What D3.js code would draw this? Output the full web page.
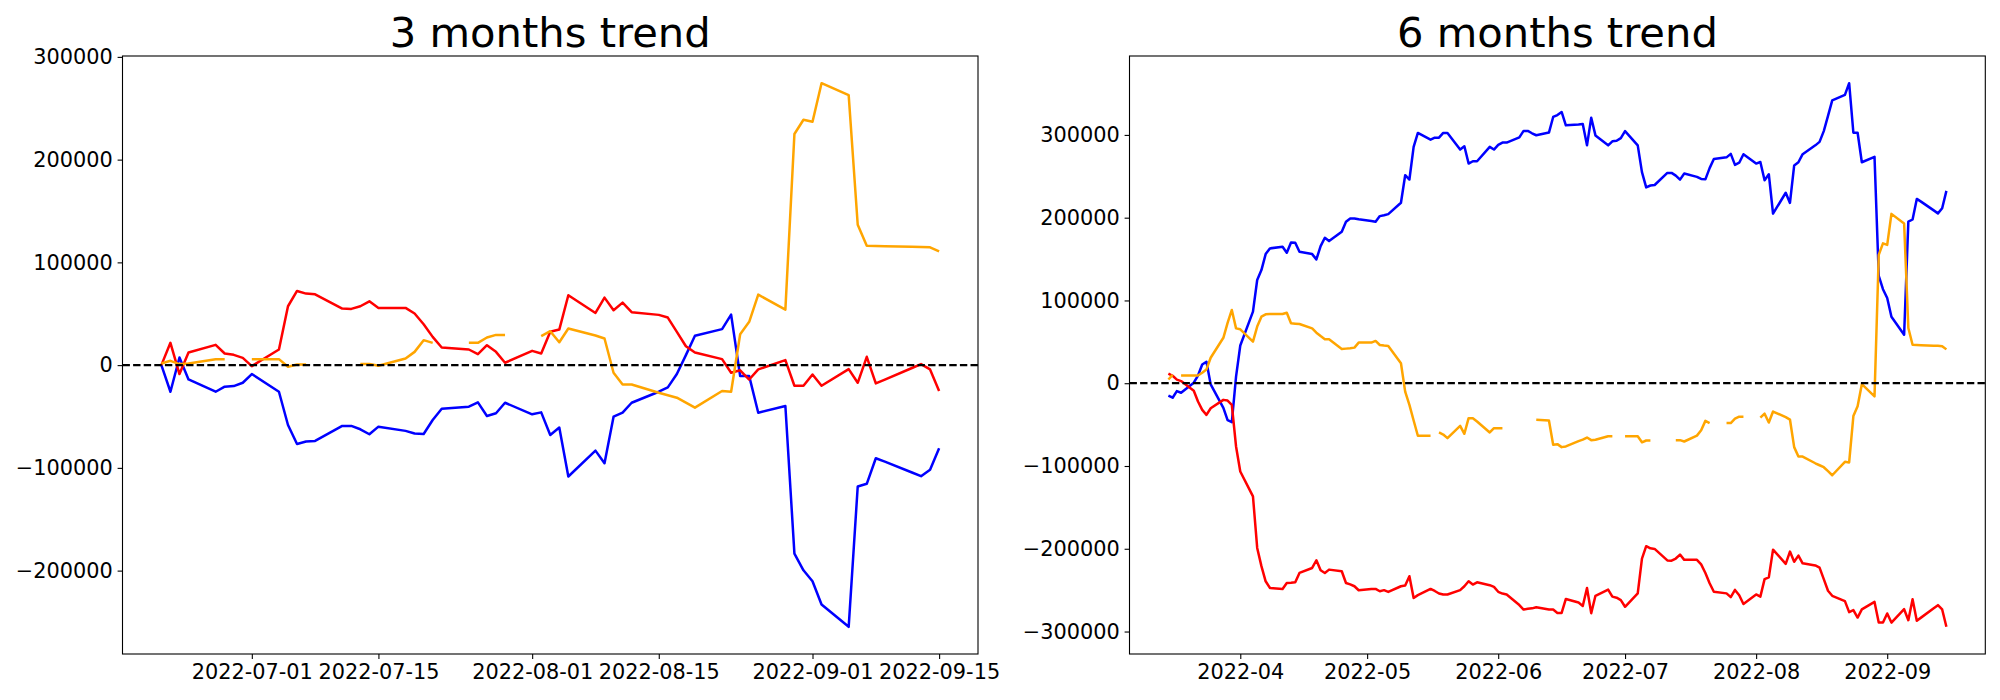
<!DOCTYPE html>
<html><head><meta charset="utf-8">
<script src="https://cdn.jsdelivr.net/npm/d3@7"></script>
<style>body{margin:0;background:#fff}</style>
</head><body><svg id="c" width="2000" height="700" style="background:#fff"></svg>
<script>
// ---------- 3 months trend ----------
const dates3 = ["2022-06-21","2022-06-22","2022-06-23","2022-06-24","2022-06-27","2022-06-28","2022-06-29","2022-06-30",
"2022-07-01","2022-07-04","2022-07-05","2022-07-06","2022-07-07","2022-07-08","2022-07-11","2022-07-12","2022-07-13","2022-07-14","2022-07-15","2022-07-18","2022-07-19","2022-07-20","2022-07-21","2022-07-22","2022-07-25","2022-07-26","2022-07-27","2022-07-28","2022-07-29",
"2022-08-01","2022-08-02","2022-08-03","2022-08-04","2022-08-05","2022-08-08","2022-08-09","2022-08-10","2022-08-11","2022-08-12","2022-08-15","2022-08-16","2022-08-17","2022-08-18","2022-08-19","2022-08-22","2022-08-23","2022-08-24","2022-08-25","2022-08-26","2022-08-29","2022-08-30","2022-08-31",
"2022-09-01","2022-09-02","2022-09-05","2022-09-06","2022-09-07","2022-09-08","2022-09-09","2022-09-12","2022-09-13","2022-09-14","2022-09-15"];
const blue3 = [0,-25900,7400,-13900,-25900,-21000,-20400,-17150,
-8700,-25900,-58250,-76700,-74400,-73800,-59200,-59200,-62450,-67300,-59900,-64000,-66500,-67000,-53400,-42400,-40400,-36200,-49500,-46900,-36600,
-47900,-46000,-68000,-60800,-108400,-83200,-95500,-50200,-46300,-36600,-25900,-21700,-8700,9700,28500,35000,49200,-10700,-10700,-46300,-39800,-183500,-199700,
-210300,-233000,-254700,-118100,-115500,-90600,-93900,-104500,-108100,-101900,-80900];
const red3 = [0,21700,-8700,12300,19700,11300,10000,7100,
-1000,15200,57300,72200,69600,68900,55000,54700,57300,62100,55700,55700,50200,39800,27500,17150,15200,10700,19400,12900,2300,
13900,11300,32400,34600,68000,50800,65700,53400,60800,51500,48900,46300,32400,18400,12300,5800,-7400,-5000,-14000,-4200,4900,-20100,-20100,
-9100,-20100,-3900,-17200,8100,-17800,-14100,-2800,1000,-4200,-25200];
const orange3 = [1600,4200,1000,1600,5800,5800,null,null,
5800,5800,-1600,600,600,null,null,null,1000,1000,-600,6500,12900,24300,21700,null,21700,21700,26900,29400,29400,
null,28200,33000,22300,35600,28800,25900,-7400,-18800,-18800,-26900,-29300,-31700,-36500,-41400,-25200,-25900,30100,42100,68600,54000,224900,238800,
236900,274400,262800,136600,116200,116000,115800,115200,115000,114600,110700];
const xTicks3 = ["2022-07-01","2022-07-15","2022-08-01","2022-08-15","2022-09-01","2022-09-15"];
const yTicks3 = [-200000,-100000,0,100000,200000,300000];

// ---------- 6 months trend ----------
const dates6early = ["2022-03-15","2022-03-16","2022-03-17","2022-03-18","2022-03-21","2022-03-22","2022-03-23","2022-03-24","2022-03-25","2022-03-28","2022-03-29","2022-03-30","2022-03-31",
"2022-04-01","2022-04-04","2022-04-05","2022-04-06","2022-04-07","2022-04-08","2022-04-11","2022-04-12","2022-04-13","2022-04-14","2022-04-15","2022-04-18","2022-04-19","2022-04-20","2022-04-21","2022-04-22","2022-04-25","2022-04-26","2022-04-27","2022-04-28","2022-04-29",
"2022-05-02","2022-05-03","2022-05-04","2022-05-05","2022-05-06","2022-05-09","2022-05-10","2022-05-11","2022-05-12","2022-05-13","2022-05-16","2022-05-17","2022-05-18","2022-05-19","2022-05-20","2022-05-23","2022-05-24","2022-05-25","2022-05-26","2022-05-27","2022-05-30","2022-05-31",
"2022-06-01","2022-06-02","2022-06-03","2022-06-06","2022-06-07","2022-06-08","2022-06-09","2022-06-10","2022-06-13","2022-06-14","2022-06-15","2022-06-16","2022-06-17","2022-06-20"];
const dates6 = dates6early.concat(dates3);
const blue6 = [-15000,-17500,-9500,-11500,600,9300,22700,25900,-1400,-29700,-44600,-47000,8000,
45600,86500,124700,136700,156000,162900,164900,157600,170100,169700,158800,156000,149600,165700,175700,171700,183000,195000,199000,199000,198000,
196000,195000,201900,203000,204300,218000,251300,246100,285500,302400,294300,296700,296700,302400,302400,282300,286300,265400,268200,268200,285500,282300,
288000,290700,290700,297000,304800,304800,302000,299600,302800,321700,324000,327700,311600,312500,
313300,287400,320700,299400,287400,292300,292900,296150,
304600,287400,255050,236600,238900,239500,254100,254100,250850,246000,253400,249300,246800,246300,259900,270900,272900,277100,263800,266400,276700,
265400,267300,245300,252500,204900,230100,217800,263100,267000,276700,287400,291600,304600,323000,341800,348300,362500,302600,302600,267000,273500,129800,113600,
103000,80300,58600,195200,197800,222700,219400,208800,205200,211400,232400];
const red6 = [11700,9000,4400,2600,-9000,-22100,-32200,-38200,-30200,-20100,-20900,-26100,-76400,
-106600,-136700,-199000,-221000,-239300,-247300,-248500,-241300,-241000,-240500,-229200,-223200,-213900,-226000,-229200,-225200,-227200,-241300,-243000,-245300,-250100,
-248500,-248500,-251300,-250000,-252100,-245300,-244500,-233200,-259400,-256000,-248500,-251000,-254000,-255300,-255300,-250000,-245300,-239300,-243300,-240500,-244000,-246100,
-252000,-254100,-255300,-268000,-273400,-272600,-272000,-270600,-273400,-273400,-277500,-277500,-260600,-265000,
-269100,-247400,-277800,-256800,-249400,-257800,-259100,-262000,
-270100,-253900,-211800,-196900,-199500,-200200,-214100,-214400,-211800,-207000,-213400,-213400,-218900,-229300,-241600,-251950,-253900,-258400,-249700,-256200,-266800,
-255200,-257800,-236700,-234500,-201100,-218300,-203400,-215700,-208300,-217600,-220200,-222800,-236700,-250700,-256800,-263300,-276500,-274100,-283100,-273300,-264200,-289200,-289200,
-278200,-289200,-273000,-286300,-261000,-286900,-283200,-271900,-268100,-273300,-294300];
const orange6 = [4500,10000,null,9400,9400,9400,12700,16700,30800,54900,72800,88500,66300,
65100,50300,68400,80400,83200,83500,83600,85200,72400,72000,71600,66300,61100,57000,53100,53100,41400,41800,42300,43000,49100,
49100,51100,46200,45500,45000,24100,-10100,-26100,-45000,-63500,-63500,null,-59500,-62000,-66300,-51500,-61100,-42200,-42200,-46200,-59500,-54300,
-54300,-54300,null,null,null,null,null,-44200,-45000,-74400,-73600,-77200,-76400,-70000,
-68200,-65600,-68800,-68200,-64000,-64000,null,null,
-64000,-64000,-71400,-69200,-69200,null,null,null,-68800,-68800,-70400,-63300,-56900,-45500,-48100,null,-48100,-48100,-42900,-40400,-40400,
null,-41600,-36800,-47500,-34200,-41000,-43900,-77200,-88600,-88600,-96700,-99100,-101500,-106300,-111200,-95000,-95700,-39700,-27700,-1200,-15800,155100,169000,
167100,204600,193000,66800,46400,46200,46000,45400,45200,44800,40900];
const xTicks6 = ["2022-04-01","2022-05-01","2022-06-01","2022-07-01","2022-08-01","2022-09-01"];
const yTicks6 = [-300000,-200000,-100000,0,100000,200000,300000];

const colors = {blue:"#0000ff", red:"#ff0000", orange:"#ffa500"};
const parse = d3.timeParse("%Y-%m-%d");
const svg = d3.select("#c");
const FONT = "DejaVu Sans, sans-serif";

function panel(cfg) {
  const {left, top, width, height, title, dates, series, xTicks, xFmt, yTicks} = cfg;
  const t = dates.map(parse);
  const t0 = +t[0], t1 = +t[t.length - 1], span = t1 - t0;
  const x = d3.scaleTime().domain([new Date(t0 - 0.05 * span), new Date(t1 + 0.05 * span)]).range([left, left + width]);
  const all = series.flatMap(s => s.values).filter(v => v != null);
  const lo = d3.min(all), hi = d3.max(all), r = hi - lo;
  const y = d3.scaleLinear().domain([lo - 0.05 * r, hi + 0.05 * r]).range([top + height, top]);
  const g = svg.append("g");

  series.forEach(s => {
    const line = d3.line().defined(v => v != null).x((v, i) => x(t[i])).y(v => y(v));
    g.append("path").attr("d", line(s.values)).attr("fill", "none")
      .attr("stroke", s.color).attr("stroke-width", 2.5)
      .attr("stroke-linejoin", "round").attr("stroke-linecap", "butt");
  });

  g.append("line").attr("x1", left).attr("x2", left + width)
    .attr("y1", y(0)).attr("y2", y(0))
    .attr("stroke", "#000").attr("stroke-width", 2.2).attr("stroke-dasharray", "7.4,3.2");

  const yAxis = d3.axisLeft(y).tickValues(yTicks).tickSize(4.9).tickPadding(4.9)
    .tickFormat(v => v < 0 ? "\u2212" + (-v) : String(v));
  const ya = g.append("g").attr("transform", `translate(${left},0)`).call(yAxis);
  ya.select(".domain").remove();
  ya.selectAll("line").attr("stroke", "#000").attr("stroke-width", 1.1);
  ya.selectAll("text").attr("font-size", "20.83px").attr("font-family", FONT).attr("fill", "#000");

  const xAxis = d3.axisBottom(x).tickValues(xTicks.map(parse)).tickSize(4.9).tickPadding(4.9)
    .tickFormat(d3.timeFormat(xFmt));
  const xa = g.append("g").attr("transform", `translate(0,${top + height})`).call(xAxis);
  xa.select(".domain").remove();
  xa.selectAll("line").attr("stroke", "#000").attr("stroke-width", 1.1);
  xa.selectAll("text").attr("font-size", "20.83px").attr("font-family", FONT).attr("fill", "#000");

  g.append("rect").attr("x", left).attr("y", top).attr("width", width).attr("height", height)
    .attr("fill", "none").attr("stroke", "#000").attr("stroke-width", 1.1);

  g.append("text").attr("x", left + width / 2).attr("y", top - 9)
    .attr("text-anchor", "middle").attr("font-family", FONT).attr("font-size", "41.67px")
    .attr("fill", "#000").text(title);
}

panel({left: 122.5, top: 56, width: 855.5, height: 598, title: "3 months trend",
  dates: dates3, xTicks: xTicks3, xFmt: "%Y-%m-%d", yTicks: yTicks3,
  series: [{values: blue3, color: colors.blue}, {values: red3, color: colors.red}, {values: orange3, color: colors.orange}]});

panel({left: 1129.5, top: 56, width: 855.8, height: 598, title: "6 months trend",
  dates: dates6, xTicks: xTicks6, xFmt: "%Y-%m", yTicks: yTicks6,
  series: [{values: blue6, color: colors.blue}, {values: red6, color: colors.red}, {values: orange6, color: colors.orange}]});
</script>
</body></html>
